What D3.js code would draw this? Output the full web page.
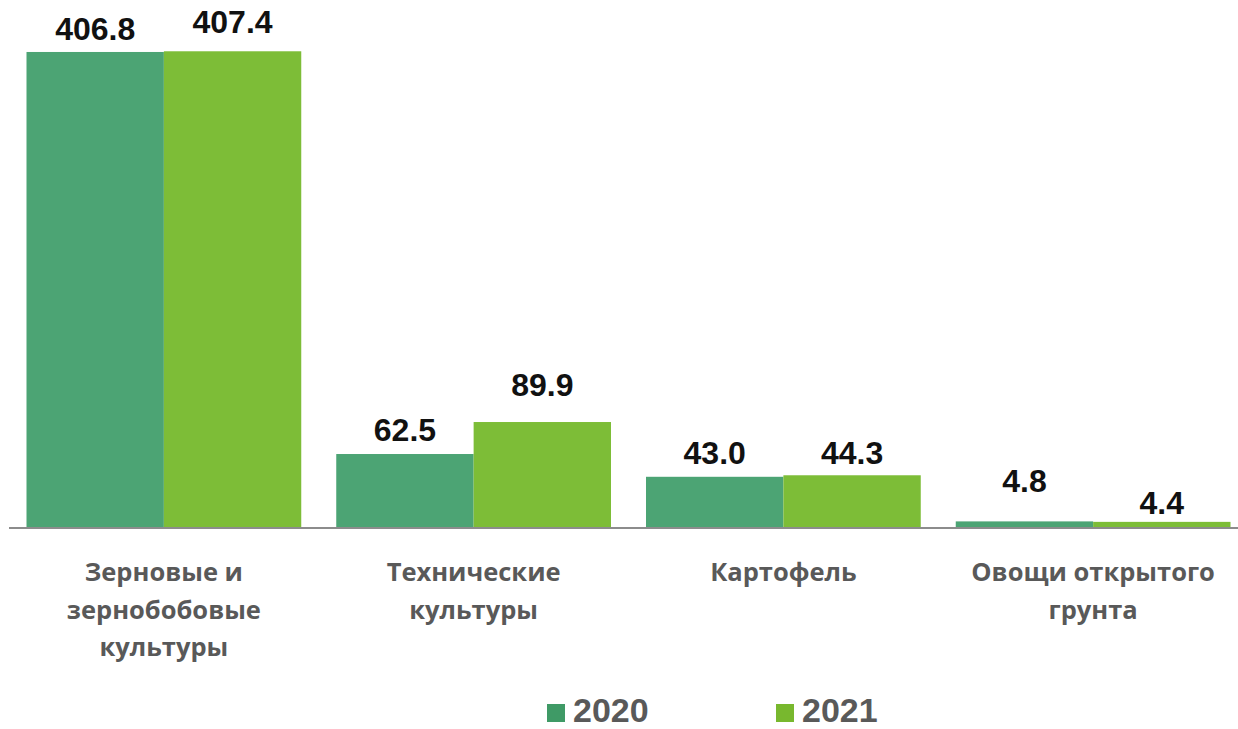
<!DOCTYPE html>
<html><head><meta charset="utf-8">
<script src="https://cdn.jsdelivr.net/npm/d3@7"></script>
<style>html,body{margin:0;padding:0;background:#fff;}svg{display:block;}</style>
</head><body>
<svg id="c" width="1238" height="729"></svg>
<script>
const categories = [["Зерновые и","зернобобовые","культуры"],["Технические","культуры"],["Картофель"],["Овощи открытого","грунта"]];
const series = ["2020","2021"];
const values2020 = [406.8, 62.5, 43.0, 4.8];
const values2021 = [407.4, 89.9, 44.3, 4.4];
const valueLabels2020 = ["406.8","62.5","43.0","4.8"];
const valueLabels2021 = ["407.4","89.9","44.3","4.4"];
// label lift above bar top (px), as placed in the original
const lift2020 = [12, 13, 13, 29];
const lift2021 = [18, 26, 11, 8];

const colors = ["#4ca474","#7dbd37"];
const legendColors = ["#3f9a66","#78b82e"];
const svg = d3.select("#c");
const baseY = 527;
const x0 = d3.scaleBand().domain(d3.range(categories.length)).range([9, 1248]).paddingInner(0.113).paddingOuter(0.0565);
const x1 = d3.scaleBand().domain(series).range([0, x0.bandwidth()]);
const y = d3.scaleLinear().domain([0, 450]).range([baseY, baseY - 450*1.1677]);

const data = [values2020, values2021];
const labels = [valueLabels2020, valueLabels2021];
const lifts = [lift2020, lift2021];

series.forEach((s, si) => {
  const g = svg.append("g");
  g.selectAll("rect").data(data[si]).join("rect")
    .attr("x", (d,i) => x0(i) + x1(s))
    .attr("y", d => y(d))
    .attr("width", x1.bandwidth())
    .attr("height", d => y(0) - y(d))
    .attr("fill", colors[si]);
  g.selectAll("text").data(data[si]).join("text")
    .attr("x", (d,i) => x0(i) + x1(s) + x1.bandwidth()/2)
    .attr("y", (d,i) => y(d) - lifts[si][i])
    .attr("text-anchor","middle")
    .attr("font-family","'Liberation Sans', Arial, sans-serif")
    .attr("font-weight","bold")
    .attr("font-size", 32)
    .attr("fill","#111")
    .text((d,i) => labels[si][i]);
});

// axis line
svg.append("line").attr("x1", 9).attr("x2", 1238).attr("y1", baseY+1).attr("y2", baseY+1)
  .attr("stroke","#8c8c8c").attr("stroke-width",2);

// category labels
const cg = svg.append("g");
categories.forEach((lines, i) => {
  const t = cg.append("text")
    .attr("text-anchor","middle")
    .attr("font-family","'Open Sans', sans-serif")
    .attr("font-weight","bold")
    .attr("font-size", 25.5)
    .attr("fill","#595959");
  lines.forEach((ln, li) => {
    t.append("tspan").attr("x", x0(i) + x0.bandwidth()/2).attr("y", 581 + li*37.5).text(ln);
  });
});

// legend
const legX = [547, 776];
series.forEach((s, si) => {
  svg.append("rect").attr("x", legX[si]).attr("y", 704).attr("width", 18).attr("height", 18).attr("fill", legendColors[si]);
  svg.append("text").attr("x", legX[si] + 26).attr("y", 722)
    .attr("font-family","'Liberation Sans', Arial, sans-serif")
    .attr("font-weight","bold").attr("font-size", 34).attr("fill","#595959").text(s);
});
</script>
</body></html>
